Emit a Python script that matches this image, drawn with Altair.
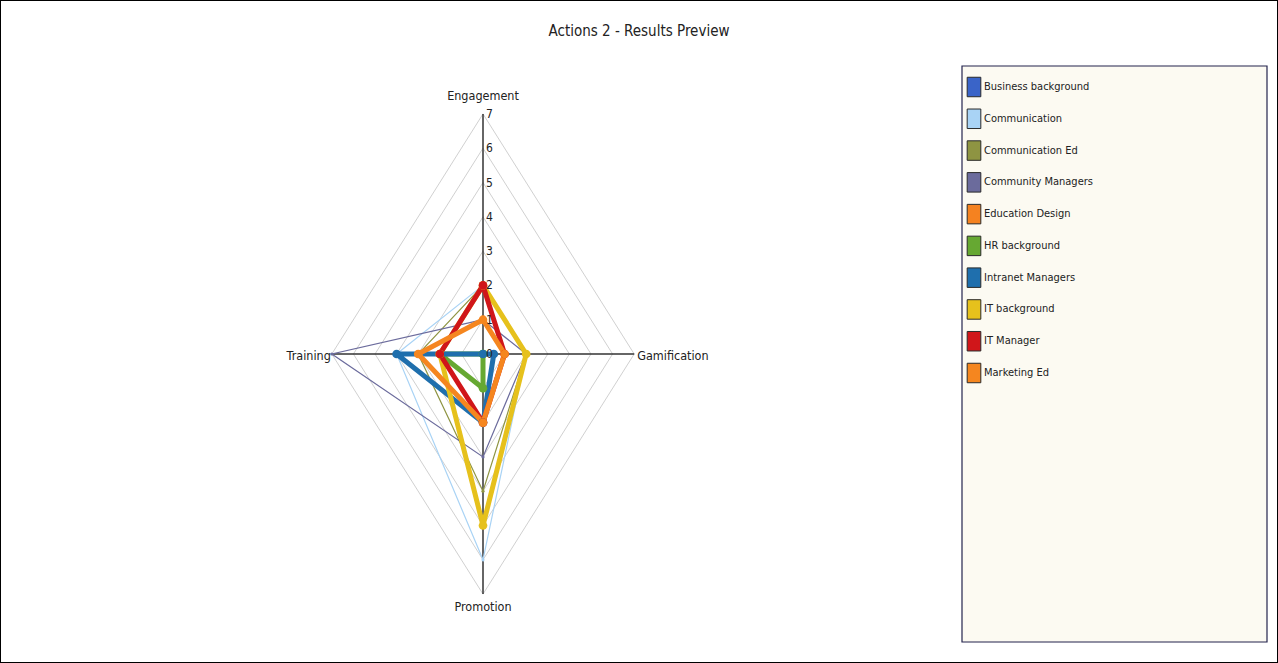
import altair as alt
import pandas as pd

# Radar axes, clockwise from the top
axis_names = ["Engagement", "Gamification", "Promotion", "Training"]

series = [
    "Business background", "Communication", "Communication Ed", "Community Managers",
    "Education Design", "HR background", "Intranet Managers", "IT background",
    "IT Manager", "Marketing Ed",
]
colors = [
    "#3a64c8", "#a9d3f5", "#8e9442", "#6b6b9c", "#f58220",
    "#66a832", "#1f6fad", "#e6c11c", "#d0161a", "#f5861f",
]

# Scores per series, one list per radar axis
engagement   = [0,   2, 2, 1, 1, 0, 0,   2, 2, 1]
gamification = [0.5, 2, 2, 2, 1, 0, 0.5, 2, 1, 1]
promotion    = [2,   6, 4, 3, 2, 1, 2,   5, 2, 2]
training     = [4,   4, 3, 7, 3, 2, 4,   2, 2, 3]
highlighted  = [False, False, False, False, False, True, True, True, True, True]

levels = [1, 2, 3, 4, 5, 6, 7]
tick_values = [0, 1, 2, 3, 4, 5, 6, 7]

FONT = "Liberation Sans Narrow, Arial Narrow, DejaVu Sans Condensed, sans-serif"

# ---- long-form tables -------------------------------------------------------
score_cols = [engagement, gamification, promotion, training]
rows = []
for i, name in enumerate(series):
    for step in range(5):  # fifth step closes the polygon
        k = step % 4
        rows.append({"series": name, "axis": axis_names[k], "k": k, "step": step,
                     "value": score_cols[k][i], "thick": highlighted[i], "idx": i})
scores = pd.DataFrame(rows)

grid = pd.DataFrame([{"level": lv, "k": s % 4, "step": s, "value": lv}
                     for lv in levels for s in range(5)])
spokes = pd.DataFrame({"axis": axis_names, "k": range(4), "value": [max(levels)] * 4})
ticks = pd.DataFrame({"label": [str(t) for t in tick_values], "value": tick_values})
legend_df = pd.DataFrame({"series": series, "idx": range(len(series))})

# polar -> cartesian, axis k points at k * 90 degrees clockwise from the top
to_x = "sin(datum.k * PI / 2) * datum.value"
to_y = "cos(datum.k * PI / 2) * datum.value"

W, H = 1278, 663
CX, CY = 483, 354          # pixel position of the radar centre
KX, KY = 21.6, 34.3        # pixels per score unit, horizontal / vertical
xs = alt.Scale(domain=[-CX / KX, (W - CX) / KX], nice=False, zero=False)
ys = alt.Scale(domain=[-(H - CY) / KY, CY / KY], nice=False, zero=False)

X = alt.X("px:Q", scale=xs, axis=None)
Y = alt.Y("py:Q", scale=ys, axis=None)
col = alt.Color("series:N", scale=alt.Scale(domain=series, range=colors), legend=None)


def polar(chart):
    return chart.transform_calculate(px=to_x, py=to_y)


grid_layer = polar(alt.Chart(grid)).mark_line(color="#c4c4c4", strokeWidth=0.8).encode(
    x=X, y=Y, detail="level:N", order="step:Q")

spoke_layer = alt.Chart(spokes).transform_calculate(
    px=to_x, py=to_y, zero="0"
).mark_rule(color="#333333", strokeWidth=1.5).encode(
    x=alt.X("zero:Q", scale=xs, axis=None), y=alt.Y("zero:Q", scale=ys, axis=None),
    x2="px:Q", y2="py:Q")

thin_lines = polar(alt.Chart(scores)).transform_filter("!datum.thick").mark_line(
    strokeWidth=1.2).encode(x=X, y=Y, color=col, detail="series:N", order="step:Q")
thick_lines = polar(alt.Chart(scores)).transform_filter("datum.thick").mark_line(
    strokeWidth=5, strokeJoin="round").encode(x=X, y=Y, color=col, detail="series:N", order="step:Q")
thin_pts = polar(alt.Chart(scores)).transform_filter("!datum.thick && datum.step < 4").mark_circle(
    size=10, opacity=1).encode(x=X, y=Y, color=col)
thick_pts = polar(alt.Chart(scores)).transform_filter("datum.thick && datum.step < 4").mark_circle(
    size=75, opacity=1).encode(x=X, y=Y, color=col, order="idx:Q")

tick_layer = alt.Chart(ticks).transform_calculate(px="0", py="datum.value").mark_text(
    align="left", baseline="middle", dx=3, fontSize=12, font=FONT, color="#222222"
).encode(x=X, y=Y, text="label:N")


def axis_label(name, **kw):
    return polar(alt.Chart(spokes)).transform_filter(
        alt.datum.axis == name).mark_text(fontSize=12.5, font=FONT, color="#222222", **kw
    ).encode(x=X, y=Y, text="axis:N")


labels = [
    axis_label("Engagement", align="center", baseline="middle", dy=-18),
    axis_label("Gamification", align="left", baseline="middle", dx=3, dy=2),
    axis_label("Promotion", align="center", baseline="middle", dy=13),
    axis_label("Training", align="right", baseline="middle", dx=-1, dy=2),
]

radar = alt.layer(grid_layer, spoke_layer, thin_lines, thick_lines, thin_pts, thick_pts,
                  tick_layer, *labels)

# ---- legend panel --------------------------------------------------------------
ly = alt.Y("idx:Q", scale=alt.Scale(domain=[0, len(series) - 1], range=[87, 373]), axis=None)

legend_box = alt.Chart(pd.DataFrame({"box": [0]})).mark_rect(
    fill="#fcfaf2", stroke="#23234d", strokeWidth=1.2
).encode(x=alt.value(962), x2=alt.value(1267), y=alt.value(66), y2=alt.value(642))

legend_keys = alt.Chart(legend_df).mark_point(
    shape="M-0.7,-1H0.7V1H-0.7Z", size=380, filled=True, opacity=1,
    stroke="#2a2a2a", strokeWidth=1
).encode(x=alt.value(974), y=ly, fill=alt.Fill("series:N", scale=alt.Scale(domain=series, range=colors), legend=None))

legend_text = alt.Chart(legend_df).mark_text(
    align="left", baseline="middle", fontSize=11, font=FONT, color="#222222"
).encode(x=alt.value(984), y=ly, text="series:N")

legend = alt.layer(legend_box, legend_keys, legend_text)

chart = alt.layer(radar, legend).resolve_scale(
    x="independent", y="independent", color="independent", fill="independent"
).properties(
    width=W, height=H, padding=0, autosize=alt.AutoSizeParams(type="none"),
    title=alt.TitleParams("Actions 2 - Results Preview", anchor="middle", offset=-39,
                          fontSize=15, font=FONT, fontWeight="normal", color="#222222"),
).configure_view(stroke="#000000", strokeWidth=2)

chart.save("out.html", embed_options={"renderer": "svg", "actions": False})
